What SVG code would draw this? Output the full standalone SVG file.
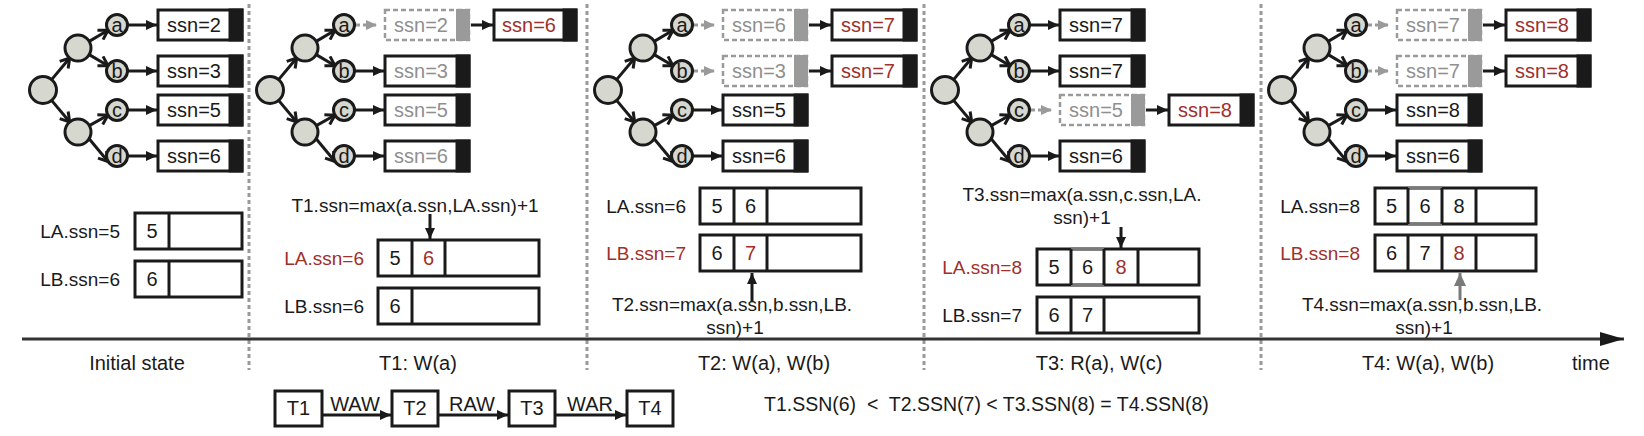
<svg xmlns="http://www.w3.org/2000/svg" width="1644" height="436" viewBox="0 0 1644 436">
<style>
.ln{stroke:#1a1a1a;stroke-width:3;fill:none}
.lg{stroke:#9a9a9a;stroke-width:3;fill:none;stroke-dasharray:5 3}
.nd{fill:#d6d7cf;stroke:#1a1a1a;stroke-width:3}
.bx{fill:#fff;stroke:#1a1a1a;stroke-width:3}
.bxd{fill:#fff;stroke:#9a9a9a;stroke-width:2.5;stroke-dasharray:5 3}
.end{fill:#1a1a1a;stroke:#1a1a1a;stroke-width:3}
.endg{fill:#9a9a9a;stroke:#9a9a9a;stroke-width:2}
.cg{stroke:#7a7a7a;stroke-width:3}
.sep{stroke:#9a9a9a;stroke-width:3;stroke-dasharray:4 3}
text{font-family:"Liberation Sans",Arial,sans-serif;font-size:20px;fill:#1a1a1a}
.s{font-size:19px}
.m{text-anchor:middle}
.e{text-anchor:end}
.g{fill:#8f8f8f}
.r{fill:#a0302c}
</style>
<defs>
<marker id="tri" markerUnits="userSpaceOnUse" markerWidth="12" markerHeight="12" refX="11" refY="6" orient="auto"><path d="M0,1 L11,6 L0,11 z" fill="#1a1a1a"/></marker>
<marker id="trig" markerUnits="userSpaceOnUse" markerWidth="12" markerHeight="12" refX="11" refY="6" orient="auto"><path d="M0,1 L11,6 L0,11 z" fill="#9a9a9a"/></marker>
<marker id="tril" markerUnits="userSpaceOnUse" markerWidth="14" markerHeight="14" refX="13" refY="7" orient="auto"><path d="M0,1 L13,7 L0,13 z" fill="#7a7a7a"/></marker>
<marker id="chev" markerUnits="userSpaceOnUse" markerWidth="14" markerHeight="14" refX="11" refY="7" orient="auto"><path d="M2,1.5 L11,7 L2,12.5" fill="none" stroke="#1a1a1a" stroke-width="3" stroke-linejoin="miter"/></marker>
<marker id="tl" markerUnits="userSpaceOnUse" markerWidth="26" markerHeight="16" refX="24" refY="8" orient="auto"><path d="M0,1 L24,8 L0,15 z" fill="#1a1a1a"/></marker>
</defs>

<!-- separators and timeline -->
<g id="connectors-axis">
<line class="sep" x1="249" y1="4" x2="249" y2="370"/>
<line class="sep" x1="587" y1="4" x2="587" y2="370"/>
<line class="sep" x1="924" y1="4" x2="924" y2="370"/>
<line class="sep" x1="1261" y1="4" x2="1261" y2="370"/>
<line x1="22" y1="339" x2="1624" y2="339" stroke="#333" stroke-width="3" marker-end="url(#tl)"/>
</g>

<!-- ===== Panel 0 ===== -->
<g id="panel0">
<g id="p0-edges">
<line class="ln" x1="51.6" y1="79.6" x2="69.7" y2="58" marker-end="url(#chev)"/>
<line class="ln" x1="51.6" y1="100.4" x2="69.7" y2="122" marker-end="url(#chev)"/>
<line class="ln" x1="89.2" y1="41.4" x2="108" y2="30.3" marker-end="url(#chev)"/>
<line class="ln" x1="89.2" y1="54.6" x2="108" y2="65.7" marker-end="url(#chev)"/>
<line class="ln" x1="89.3" y1="125.6" x2="107.9" y2="115.2" marker-end="url(#chev)"/>
<line class="ln" x1="89.1" y1="138.8" x2="108" y2="161.5" marker-end="url(#chev)"/>
<line class="ln" x1="128" y1="25" x2="157" y2="25" marker-end="url(#tri)"/>
<line class="ln" x1="128" y1="71" x2="157" y2="71" marker-end="url(#tri)"/>
<line class="ln" x1="128" y1="110" x2="157" y2="110" marker-end="url(#tri)"/>
<line class="ln" x1="128" y1="156" x2="157" y2="156" marker-end="url(#tri)"/>
</g>
<g id="p0-root"><circle class="nd" cx="43" cy="90" r="13.5"/></g>
<g id="p0-m1"><circle class="nd" cx="78" cy="48" r="13"/></g>
<g id="p0-m2"><circle class="nd" cx="78" cy="132" r="13"/></g>
<g id="p0-a"><circle class="nd" cx="117" cy="25" r="10.5"/><text class="m" x="117" y="32">a</text></g>
<g id="p0-b"><circle class="nd" cx="117" cy="71" r="10.5"/><text class="m" x="117" y="78">b</text></g>
<g id="p0-c"><circle class="nd" cx="117" cy="110" r="10.5"/><text class="m" x="117" y="117">c</text></g>
<g id="p0-d"><circle class="nd" cx="117" cy="156" r="10.5"/><text class="m" x="117" y="163">d</text></g>
<g id="p0-sa"><rect class="bx" x="158" y="10" width="84" height="30"/><rect class="end" x="230" y="10" width="12" height="30"/><text class="m" x="194" y="32">ssn=2</text></g>
<g id="p0-sb"><rect class="bx" x="158" y="56" width="84" height="30"/><rect class="end" x="230" y="56" width="12" height="30"/><text class="m" x="194" y="78">ssn=3</text></g>
<g id="p0-sc"><rect class="bx" x="158" y="95" width="84" height="30"/><rect class="end" x="230" y="95" width="12" height="30"/><text class="m" x="194" y="117">ssn=5</text></g>
<g id="p0-sd"><rect class="bx" x="158" y="141" width="84" height="30"/><rect class="end" x="230" y="141" width="12" height="30"/><text class="m" x="194" y="163">ssn=6</text></g>
<g id="p0-LA"><text class="e s" x="120" y="238">LA.ssn=5</text><rect class="bx" x="135" y="213" width="107" height="36"/><line class="ln" x1="169" y1="213" x2="169" y2="249"/><text class="m" x="152" y="238">5</text></g>
<g id="p0-LB"><text class="e s" x="120" y="286">LB.ssn=6</text><rect class="bx" x="135" y="261" width="107" height="36"/><line class="ln" x1="169" y1="261" x2="169" y2="297"/><text class="m" x="152" y="286">6</text></g>
<text class="m" x="137" y="370">Initial state</text>
</g>

<!-- ===== Panel 1 ===== -->
<g id="panel1">
<g transform="translate(227,0)">
<g id="p1-edges">
<line class="ln" x1="51.6" y1="79.6" x2="69.7" y2="58" marker-end="url(#chev)"/>
<line class="ln" x1="51.6" y1="100.4" x2="69.7" y2="122" marker-end="url(#chev)"/>
<line class="ln" x1="89.2" y1="41.4" x2="108" y2="30.3" marker-end="url(#chev)"/>
<line class="ln" x1="89.2" y1="54.6" x2="108" y2="65.7" marker-end="url(#chev)"/>
<line class="ln" x1="89.3" y1="125.6" x2="107.9" y2="115.2" marker-end="url(#chev)"/>
<line class="ln" x1="89.1" y1="138.8" x2="108" y2="161.5" marker-end="url(#chev)"/>
<line class="lg" x1="128" y1="25" x2="150" y2="25" marker-end="url(#trig)"/>
<line class="ln" x1="244" y1="25" x2="266" y2="25" marker-end="url(#tri)"/>
<line class="ln" x1="128" y1="71" x2="157" y2="71" marker-end="url(#tri)"/>
<line class="ln" x1="128" y1="110" x2="157" y2="110" marker-end="url(#tri)"/>
<line class="ln" x1="128" y1="156" x2="157" y2="156" marker-end="url(#tri)"/>
</g>
<g id="p1-root"><circle class="nd" cx="43" cy="90" r="13.5"/></g>
<g id="p1-m1"><circle class="nd" cx="78" cy="48" r="13"/></g>
<g id="p1-m2"><circle class="nd" cx="78" cy="132" r="13"/></g>
<g id="p1-a"><circle class="nd" cx="117" cy="25" r="10.5"/><text class="m" x="117" y="32">a</text></g>
<g id="p1-b"><circle class="nd" cx="117" cy="71" r="10.5"/><text class="m" x="117" y="78">b</text></g>
<g id="p1-c"><circle class="nd" cx="117" cy="110" r="10.5"/><text class="m" x="117" y="117">c</text></g>
<g id="p1-d"><circle class="nd" cx="117" cy="156" r="10.5"/><text class="m" x="117" y="163">d</text></g>
<g id="p1-sa-old"><rect class="bxd" x="158" y="10" width="84" height="30"/><rect class="endg" x="230" y="10" width="12" height="30"/><text class="m g" x="194" y="32">ssn=2</text></g>
<g id="p1-sa-new"><rect class="bx" x="267" y="10" width="82" height="30"/><rect class="end" x="337" y="10" width="12" height="30"/><text class="m r" x="302" y="32">ssn=6</text></g>
<g id="p1-sb"><rect class="bx" x="158" y="56" width="84" height="30"/><rect class="end" x="230" y="56" width="12" height="30"/><text class="m g" x="194" y="78">ssn=3</text></g>
<g id="p1-sc"><rect class="bx" x="158" y="95" width="84" height="30"/><rect class="end" x="230" y="95" width="12" height="30"/><text class="m g" x="194" y="117">ssn=5</text></g>
<g id="p1-sd"><rect class="bx" x="158" y="141" width="84" height="30"/><rect class="end" x="230" y="141" width="12" height="30"/><text class="m g" x="194" y="163">ssn=6</text></g>
</g>
<text class="m s" x="415" y="212">T1.ssn=max(a.ssn,LA.ssn)+1</text>
<line class="ln" x1="430" y1="214" x2="430" y2="239" marker-end="url(#tri)"/>
<g id="p1-LA"><text class="e s r" x="364" y="265">LA.ssn=6</text><rect class="bx" x="378" y="240" width="161" height="36"/><line class="ln" x1="412" y1="240" x2="412" y2="276"/><line class="ln" x1="445" y1="240" x2="445" y2="276"/><text class="m" x="395" y="265">5</text><text class="m r" x="428.5" y="265">6</text></g>
<g id="p1-LB"><text class="e s" x="364" y="313">LB.ssn=6</text><rect class="bx" x="378" y="288" width="161" height="36"/><line class="ln" x1="412" y1="288" x2="412" y2="324"/><text class="m" x="395" y="313">6</text></g>
<text class="m" x="418" y="370">T1: W(a)</text>
</g>

<!-- ===== Panel 2 ===== -->
<g id="panel2">
<g transform="translate(565,0)">
<g id="p2-edges">
<line class="ln" x1="51.6" y1="79.6" x2="69.7" y2="58" marker-end="url(#chev)"/>
<line class="ln" x1="51.6" y1="100.4" x2="69.7" y2="122" marker-end="url(#chev)"/>
<line class="ln" x1="89.2" y1="41.4" x2="108" y2="30.3" marker-end="url(#chev)"/>
<line class="ln" x1="89.2" y1="54.6" x2="108" y2="65.7" marker-end="url(#chev)"/>
<line class="ln" x1="89.3" y1="125.6" x2="107.9" y2="115.2" marker-end="url(#chev)"/>
<line class="ln" x1="89.1" y1="138.8" x2="108" y2="161.5" marker-end="url(#chev)"/>
<line class="lg" x1="128" y1="25" x2="150" y2="25" marker-end="url(#trig)"/>
<line class="ln" x1="244" y1="25" x2="266" y2="25" marker-end="url(#tri)"/>
<line class="lg" x1="128" y1="71" x2="150" y2="71" marker-end="url(#trig)"/>
<line class="ln" x1="244" y1="71" x2="266" y2="71" marker-end="url(#tri)"/>
<line class="ln" x1="128" y1="110" x2="157" y2="110" marker-end="url(#tri)"/>
<line class="ln" x1="128" y1="156" x2="157" y2="156" marker-end="url(#tri)"/>
</g>
<g id="p2-root"><circle class="nd" cx="43" cy="90" r="13.5"/></g>
<g id="p2-m1"><circle class="nd" cx="78" cy="48" r="13"/></g>
<g id="p2-m2"><circle class="nd" cx="78" cy="132" r="13"/></g>
<g id="p2-a"><circle class="nd" cx="117" cy="25" r="10.5"/><text class="m" x="117" y="32">a</text></g>
<g id="p2-b"><circle class="nd" cx="117" cy="71" r="10.5"/><text class="m" x="117" y="78">b</text></g>
<g id="p2-c"><circle class="nd" cx="117" cy="110" r="10.5"/><text class="m" x="117" y="117">c</text></g>
<g id="p2-d"><circle class="nd" cx="117" cy="156" r="10.5"/><text class="m" x="117" y="163">d</text></g>
<g id="p2-sa-old"><rect class="bxd" x="158" y="10" width="84" height="30"/><rect class="endg" x="230" y="10" width="12" height="30"/><text class="m g" x="194" y="32">ssn=6</text></g>
<g id="p2-sa-new"><rect class="bx" x="267" y="10" width="84" height="30"/><rect class="end" x="339" y="10" width="12" height="30"/><text class="m r" x="303" y="32">ssn=7</text></g>
<g id="p2-sb-old"><rect class="bxd" x="158" y="56" width="84" height="30"/><rect class="endg" x="230" y="56" width="12" height="30"/><text class="m g" x="194" y="78">ssn=3</text></g>
<g id="p2-sb-new"><rect class="bx" x="267" y="56" width="84" height="30"/><rect class="end" x="339" y="56" width="12" height="30"/><text class="m r" x="303" y="78">ssn=7</text></g>
<g id="p2-sc"><rect class="bx" x="158" y="95" width="84" height="30"/><rect class="end" x="230" y="95" width="12" height="30"/><text class="m" x="194" y="117">ssn=5</text></g>
<g id="p2-sd"><rect class="bx" x="158" y="141" width="84" height="30"/><rect class="end" x="230" y="141" width="12" height="30"/><text class="m" x="194" y="163">ssn=6</text></g>
</g>
<g id="p2-LA"><text class="e s" x="686" y="213">LA.ssn=6</text><rect class="bx" x="700" y="188" width="161" height="36"/><line class="ln" x1="734" y1="188" x2="734" y2="224"/><line class="ln" x1="767" y1="188" x2="767" y2="224"/><text class="m" x="717" y="213">5</text><text class="m" x="750.5" y="213">6</text></g>
<g id="p2-LB"><text class="e s r" x="686" y="260">LB.ssn=7</text><rect class="bx" x="700" y="235" width="161" height="36"/><line class="ln" x1="734" y1="235" x2="734" y2="271"/><line class="ln" x1="767" y1="235" x2="767" y2="271"/><text class="m" x="717" y="260">6</text><text class="m r" x="750.5" y="260">7</text></g>
<line class="ln" x1="752" y1="302" x2="752" y2="273" marker-end="url(#tri)"/>
<text class="m s" x="732" y="311">T2.ssn=max(a.ssn,b.ssn,LB.</text>
<text class="m s" x="735" y="334">ssn)+1</text>
<text class="m" x="764" y="370">T2: W(a), W(b)</text>
</g>

<!-- ===== Panel 3 ===== -->
<g id="panel3">
<g transform="translate(902,0)">
<g id="p3-edges">
<line class="ln" x1="51.6" y1="79.6" x2="69.7" y2="58" marker-end="url(#chev)"/>
<line class="ln" x1="51.6" y1="100.4" x2="69.7" y2="122" marker-end="url(#chev)"/>
<line class="ln" x1="89.2" y1="41.4" x2="108" y2="30.3" marker-end="url(#chev)"/>
<line class="ln" x1="89.2" y1="54.6" x2="108" y2="65.7" marker-end="url(#chev)"/>
<line class="ln" x1="89.3" y1="125.6" x2="107.9" y2="115.2" marker-end="url(#chev)"/>
<line class="ln" x1="89.1" y1="138.8" x2="108" y2="161.5" marker-end="url(#chev)"/>
<line class="ln" x1="128" y1="25" x2="157" y2="25" marker-end="url(#tri)"/>
<line class="ln" x1="128" y1="71" x2="157" y2="71" marker-end="url(#tri)"/>
<line class="lg" x1="128" y1="110" x2="150" y2="110" marker-end="url(#trig)"/>
<line class="ln" x1="244" y1="110" x2="266" y2="110" marker-end="url(#tri)"/>
<line class="ln" x1="128" y1="156" x2="157" y2="156" marker-end="url(#tri)"/>
</g>
<g id="p3-root"><circle class="nd" cx="43" cy="90" r="13.5"/></g>
<g id="p3-m1"><circle class="nd" cx="78" cy="48" r="13"/></g>
<g id="p3-m2"><circle class="nd" cx="78" cy="132" r="13"/></g>
<g id="p3-a"><circle class="nd" cx="117" cy="25" r="10.5"/><text class="m" x="117" y="32">a</text></g>
<g id="p3-b"><circle class="nd" cx="117" cy="71" r="10.5"/><text class="m" x="117" y="78">b</text></g>
<g id="p3-c"><circle class="nd" cx="117" cy="110" r="10.5"/><text class="m" x="117" y="117">c</text></g>
<g id="p3-d"><circle class="nd" cx="117" cy="156" r="10.5"/><text class="m" x="117" y="163">d</text></g>
<g id="p3-sa"><rect class="bx" x="158" y="10" width="84" height="30"/><rect class="end" x="230" y="10" width="12" height="30"/><text class="m" x="194" y="32">ssn=7</text></g>
<g id="p3-sb"><rect class="bx" x="158" y="56" width="84" height="30"/><rect class="end" x="230" y="56" width="12" height="30"/><text class="m" x="194" y="78">ssn=7</text></g>
<g id="p3-sc-old"><rect class="bxd" x="158" y="95" width="84" height="30"/><rect class="endg" x="230" y="95" width="12" height="30"/><text class="m g" x="194" y="117">ssn=5</text></g>
<g id="p3-sc-new"><rect class="bx" x="267" y="95" width="84" height="30"/><rect class="end" x="339" y="95" width="12" height="30"/><text class="m r" x="303" y="117">ssn=8</text></g>
<g id="p3-sd"><rect class="bx" x="158" y="141" width="84" height="30"/><rect class="end" x="230" y="141" width="12" height="30"/><text class="m" x="194" y="163">ssn=6</text></g>
</g>
<text class="m s" x="1082" y="201">T3.ssn=max(a.ssn,c.ssn,LA.</text>
<text class="m s" x="1082" y="224">ssn)+1</text>
<line class="ln" x1="1121" y1="227" x2="1121" y2="248" marker-end="url(#tri)"/>
<g id="p3-LA"><text class="e s r" x="1022" y="274">LA.ssn=8</text><rect class="bx" x="1037" y="249" width="162" height="36"/><line class="cg" x1="1071" y1="249" x2="1104" y2="249"/><line class="cg" x1="1071" y1="285" x2="1104" y2="285"/><line class="ln" x1="1071" y1="249" x2="1071" y2="285"/><line class="ln" x1="1104" y1="249" x2="1104" y2="285"/><line class="ln" x1="1138" y1="249" x2="1138" y2="285"/><text class="m" x="1054" y="274">5</text><text class="m" x="1087.5" y="274">6</text><text class="m r" x="1121" y="274">8</text></g>
<g id="p3-LB"><text class="e s" x="1022" y="322">LB.ssn=7</text><rect class="bx" x="1037" y="297" width="162" height="36"/><line class="ln" x1="1071" y1="297" x2="1071" y2="333"/><line class="ln" x1="1104" y1="297" x2="1104" y2="333"/><text class="m" x="1054" y="322">6</text><text class="m" x="1087.5" y="322">7</text></g>
<text class="m" x="1099" y="370">T3: R(a), W(c)</text>
</g>

<!-- ===== Panel 4 ===== -->
<g id="panel4">
<g transform="translate(1239,0)">
<g id="p4-edges">
<line class="ln" x1="51.6" y1="79.6" x2="69.7" y2="58" marker-end="url(#chev)"/>
<line class="ln" x1="51.6" y1="100.4" x2="69.7" y2="122" marker-end="url(#chev)"/>
<line class="ln" x1="89.2" y1="41.4" x2="108" y2="30.3" marker-end="url(#chev)"/>
<line class="ln" x1="89.2" y1="54.6" x2="108" y2="65.7" marker-end="url(#chev)"/>
<line class="ln" x1="89.3" y1="125.6" x2="107.9" y2="115.2" marker-end="url(#chev)"/>
<line class="ln" x1="89.1" y1="138.8" x2="108" y2="161.5" marker-end="url(#chev)"/>
<line class="lg" x1="128" y1="25" x2="150" y2="25" marker-end="url(#trig)"/>
<line class="ln" x1="244" y1="25" x2="266" y2="25" marker-end="url(#tri)"/>
<line class="lg" x1="128" y1="71" x2="150" y2="71" marker-end="url(#trig)"/>
<line class="ln" x1="244" y1="71" x2="266" y2="71" marker-end="url(#tri)"/>
<line class="ln" x1="128" y1="110" x2="157" y2="110" marker-end="url(#tri)"/>
<line class="ln" x1="128" y1="156" x2="157" y2="156" marker-end="url(#tri)"/>
</g>
<g id="p4-root"><circle class="nd" cx="43" cy="90" r="13.5"/></g>
<g id="p4-m1"><circle class="nd" cx="78" cy="48" r="13"/></g>
<g id="p4-m2"><circle class="nd" cx="78" cy="132" r="13"/></g>
<g id="p4-a"><circle class="nd" cx="117" cy="25" r="10.5"/><text class="m" x="117" y="32">a</text></g>
<g id="p4-b"><circle class="nd" cx="117" cy="71" r="10.5"/><text class="m" x="117" y="78">b</text></g>
<g id="p4-c"><circle class="nd" cx="117" cy="110" r="10.5"/><text class="m" x="117" y="117">c</text></g>
<g id="p4-d"><circle class="nd" cx="117" cy="156" r="10.5"/><text class="m" x="117" y="163">d</text></g>
<g id="p4-sa-old"><rect class="bxd" x="158" y="10" width="84" height="30"/><rect class="endg" x="230" y="10" width="12" height="30"/><text class="m g" x="194" y="32">ssn=7</text></g>
<g id="p4-sa-new"><rect class="bx" x="267" y="10" width="84" height="30"/><rect class="end" x="339" y="10" width="12" height="30"/><text class="m r" x="303" y="32">ssn=8</text></g>
<g id="p4-sb-old"><rect class="bxd" x="158" y="56" width="84" height="30"/><rect class="endg" x="230" y="56" width="12" height="30"/><text class="m g" x="194" y="78">ssn=7</text></g>
<g id="p4-sb-new"><rect class="bx" x="267" y="56" width="84" height="30"/><rect class="end" x="339" y="56" width="12" height="30"/><text class="m r" x="303" y="78">ssn=8</text></g>
<g id="p4-sc"><rect class="bx" x="158" y="95" width="84" height="30"/><rect class="end" x="230" y="95" width="12" height="30"/><text class="m" x="194" y="117">ssn=8</text></g>
<g id="p4-sd"><rect class="bx" x="158" y="141" width="84" height="30"/><rect class="end" x="230" y="141" width="12" height="30"/><text class="m" x="194" y="163">ssn=6</text></g>
</g>
<g id="p4-LA"><text class="e s" x="1360" y="213">LA.ssn=8</text><rect class="bx" x="1375" y="188" width="161" height="36"/><line class="cg" x1="1408" y1="188" x2="1442" y2="188"/><line class="cg" x1="1408" y1="224" x2="1442" y2="224"/><line class="ln" x1="1408" y1="188" x2="1408" y2="224"/><line class="ln" x1="1442" y1="188" x2="1442" y2="224"/><line class="ln" x1="1476" y1="188" x2="1476" y2="224"/><text class="m" x="1391.5" y="213">5</text><text class="m" x="1425" y="213">6</text><text class="m" x="1459" y="213">8</text></g>
<g id="p4-LB"><text class="e s r" x="1360" y="260">LB.ssn=8</text><rect class="bx" x="1375" y="235" width="161" height="36"/><line class="ln" x1="1408" y1="235" x2="1408" y2="271"/><line class="ln" x1="1442" y1="235" x2="1442" y2="271"/><line class="ln" x1="1476" y1="235" x2="1476" y2="271"/><text class="m" x="1391.5" y="260">6</text><text class="m" x="1425" y="260">7</text><text class="m r" x="1459" y="260">8</text></g>
<line x1="1460" y1="300" x2="1460" y2="273" stroke="#7a7a7a" stroke-width="3" marker-end="url(#tril)"/>
<text class="m s" x="1422" y="311">T4.ssn=max(a.ssn,b.ssn,LB.</text>
<text class="m s" x="1424" y="334">ssn)+1</text>
<text class="m" x="1428" y="370">T4: W(a), W(b)</text>
<text x="1572" y="370">time</text>
</g>

<!-- ===== Dependency chain ===== -->
<g id="chain">
<g id="connectors">
<line class="ln" x1="322" y1="415" x2="391" y2="415" marker-end="url(#tri)"/>
<line class="ln" x1="438" y1="415" x2="508" y2="415" marker-end="url(#tri)"/>
<line class="ln" x1="555" y1="415" x2="626" y2="415" marker-end="url(#tri)"/>
<text class="m" x="355" y="411">WAW</text>
<text class="m" x="472" y="411">RAW</text>
<text class="m" x="590" y="411">WAR</text>
</g>
<g id="T1"><rect class="bx" x="275" y="391" width="47" height="35"/><text class="m" x="298.5" y="415">T1</text></g>
<g id="T2"><rect class="bx" x="392" y="391" width="46" height="35"/><text class="m" x="415" y="415">T2</text></g>
<g id="T3"><rect class="bx" x="509" y="391" width="46" height="35"/><text class="m" x="532" y="415">T3</text></g>
<g id="T4"><rect class="bx" x="627" y="391" width="46" height="35"/><text class="m" x="650" y="415">T4</text></g>
</g>
<text x="764" y="411" xml:space="preserve" style="font-size:19.5px">T1.SSN(6)  &lt;  T2.SSN(7) &lt; T3.SSN(8) = T4.SSN(8)</text>
</svg>
